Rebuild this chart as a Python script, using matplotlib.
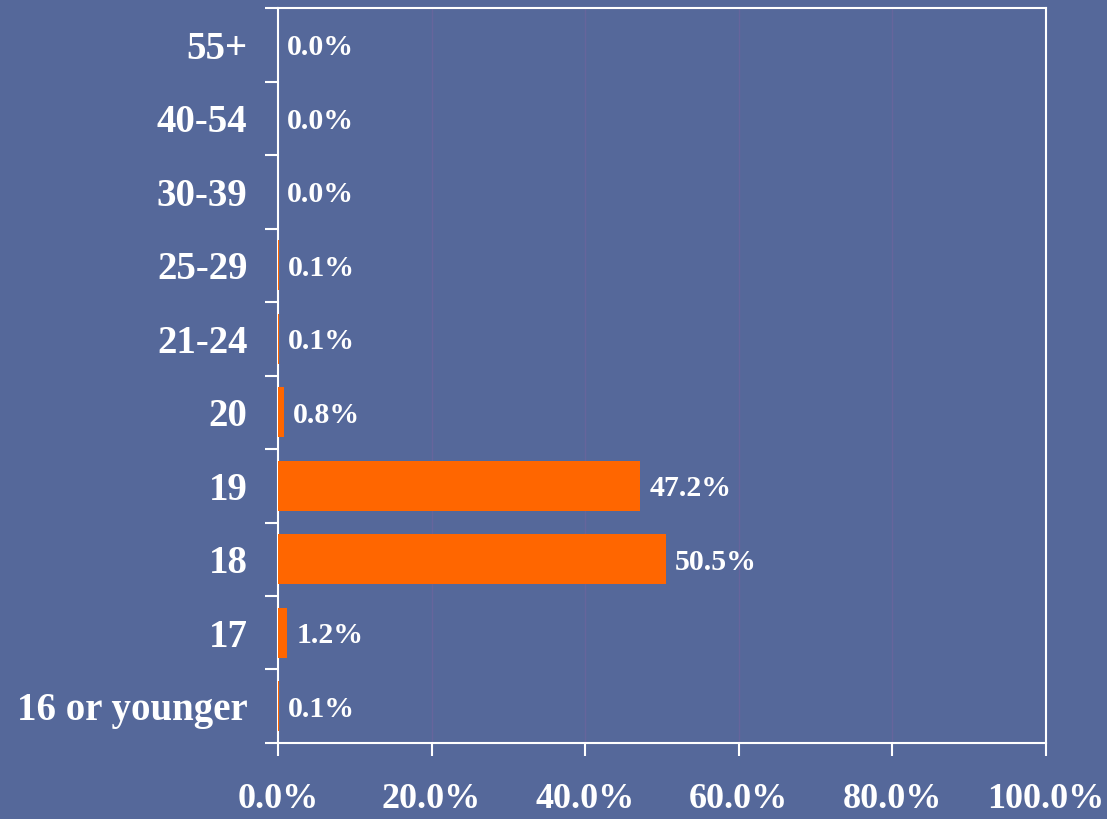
"""Age distribution bar chart (horizontal), recreated in matplotlib."""

import matplotlib

matplotlib.use("Agg")
import matplotlib.pyplot as plt
import numpy as np

# categories from top to bottom
ages = ["55+", "40-54", "30-39", "25-29", "21-24", "20", "19", "18", "17", "16 or younger"]
pct = [0.0, 0.0, 0.0, 0.1, 0.1, 0.8, 47.2, 50.5, 1.2, 0.1]
x_ticks = [0, 20, 40, 60, 80, 100]
x_tick_labels = ["0.0%", "20.0%", "40.0%", "60.0%", "80.0%", "100.0%"]

BG = "#55689A"
BAR = "#FF6600"
GRID = "#66659C"
SERIF = ["Liberation Serif", "DejaVu Serif"]

plt.rcParams["font.family"] = SERIF
plt.rcParams["font.weight"] = "bold"

fig = plt.figure(figsize=(11.07, 8.19), dpi=100, facecolor=BG)
ax = fig.add_axes([0.2511, 0.0928, 0.6938, 0.8974], facecolor=BG)

n = len(ages)
y = np.arange(n)[::-1]  # first category on top
ax.barh(y, pct, height=0.68, color=BAR, zorder=3)

for yi, v in zip(y, pct):
    ax.annotate(f"{v:.1f}%", (v, yi), xytext=(6.5, -2), textcoords="offset points",
                ha="left", va="center", color="white", fontsize=21.5, fontweight="bold",
                zorder=4)

ax.set_xlim(0, 100)
ax.set_ylim(-0.5, n - 0.5)

# x axis
ax.set_xticks(x_ticks)
ax.set_xticklabels(x_tick_labels, fontsize=26, fontweight="bold", color="white")
ax.tick_params(axis="x", length=9, width=1.5, color="white", pad=20)
for xv in x_ticks[1:-1]:
    ax.axvline(xv, color=GRID, lw=1, zorder=1)

# y axis: tick marks at category boundaries, labels at centres
ax.set_yticks(np.arange(-0.5, n, 1.0))
ax.set_yticklabels([])
ax.tick_params(axis="y", which="major", length=9.5, width=1.5, color="white")
ax.set_yticks(y, minor=True)
ax.set_yticklabels(ages, minor=True, fontsize=28, fontweight="bold", color="white")
ax.tick_params(axis="y", which="minor", length=0, pad=22)

for s in ax.spines.values():
    s.set_color("white")
    s.set_linewidth(1.5)

fig.savefig("out.png", dpi=100, facecolor=BG)
